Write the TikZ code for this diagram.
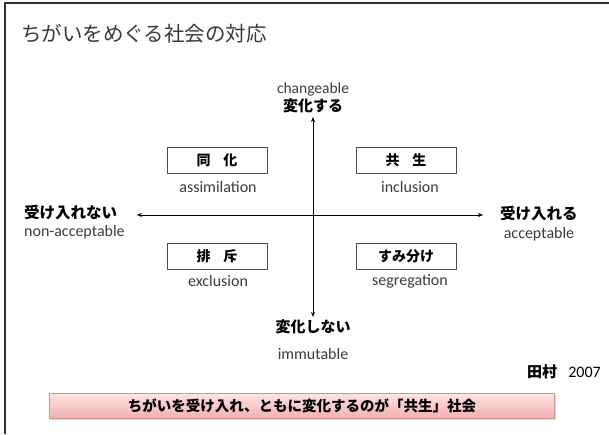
\documentclass[tikz,border=0pt]{standalone}
\usepackage{fontspec}
\setmainfont{Carlito}
\newfontfamily\jp{Noto Sans CJK JP}
\usetikzlibrary{arrows.meta,shadows}
\definecolor{titlegray}{HTML}{353A40}
\definecolor{engray}{HTML}{3C3C3C}
\definecolor{barline}{HTML}{C99A9A}
\definecolor{bartop}{HTML}{FDE4E4}
\definecolor{barbot}{HTML}{F4AEAE}
\begin{document}
\begin{tikzpicture}[x=1pt,y=-1pt,
  lbl/.style={font=\jp\bfseries\fontsize{15.5}{17}\selectfont, text=black, inner sep=0pt},
  en/.style={font=\fontsize{16}{18}\selectfont, text=engray, inner sep=0pt},
  qbox/.style={draw=black!70, line width=0.8pt, minimum width=100pt, minimum height=26pt,
    inner sep=0pt, font=\jp\bfseries\fontsize{14}{16}\selectfont},
  axisline/.style={line width=0.7pt, {Stealth[length=5pt,width=4pt]}-{Stealth[length=5pt,width=4pt]}}]
\useasboundingbox (0,0) rectangle (609,434);
\fill[white] (0,0) rectangle (609,434);
\draw[line width=1.5pt, black!80] (5,434) -- (5,3) -- (609,3);
\node[anchor=west, inner sep=0pt, font=\jp\fontsize{20.5}{24}\selectfont, text=titlegray] (title) at (21,34) {ちがいをめぐる社会の対応};

% axes
\coordinate (top) at (313,117);
\coordinate (bot) at (313,317);
\coordinate (lft) at (137,215);
\coordinate (rgt) at (483,215);
\draw[axisline] (bot) -- (top);
\draw[axisline] (lft) -- (rgt);

% axis labels
\node[en, font=\fontsize{15.5}{17}\selectfont] (chg) at (313,89) {changeable};
\node[lbl, font=\jp\bfseries\fontsize{15}{17}\selectfont] (up) at (313,106) {変化する};
\node[lbl, font=\jp\bfseries\fontsize{15}{17}\selectfont] (down) at (313,327) {変化しない};
\node[en] (imm) at (313,354) {immutable};
\node[lbl, anchor=west] (left) at (24,213) {受け入れない};
\node[en, anchor=west] (nonacc) at (24,232) {non-acceptable};
\node[lbl, anchor=west] (right) at (500,214) {受け入れる};
\node[en] (acc) at (539,234) {acceptable};

% quadrants
\node[qbox] (b1) at (217,160) {同\hspace{0.9em}化};
\node[en] (t1) at (218,187) {assimilation};
\node[qbox] (b2) at (406,160) {共\hspace{0.9em}生};
\node[en] (t2) at (410,187) {inclusion};
\node[qbox] (b3) at (217,256) {排\hspace{0.9em}斥};
\node[en] (t3) at (218,281) {exclusion};
\node[qbox] (b4) at (406,256) {すみ分け};
\node[en] (t4) at (410,281) {segregation};

% reference
\node[anchor=east, inner sep=0pt, font=\fontsize{16}{18}\selectfont] (ref) at (601,372) {{\jp\bfseries\fontsize{15}{17}\selectfont 田村}\hspace{0.7em}2007};

% bottom bar
\node[draw=barline, line width=0.8pt, top color=bartop, bottom color=barbot,
  minimum width=505pt, minimum height=25pt, inner sep=0pt,
  drop shadow={shadow xshift=1.5pt, shadow yshift=-1.5pt, opacity=0.3},
  font=\jp\bfseries\fontsize{14.5}{16}\selectfont] (bar) at (302,406)
  {ちがいを受け入れ、ともに変化するのが「共生」社会};
\end{tikzpicture}
\end{document}
